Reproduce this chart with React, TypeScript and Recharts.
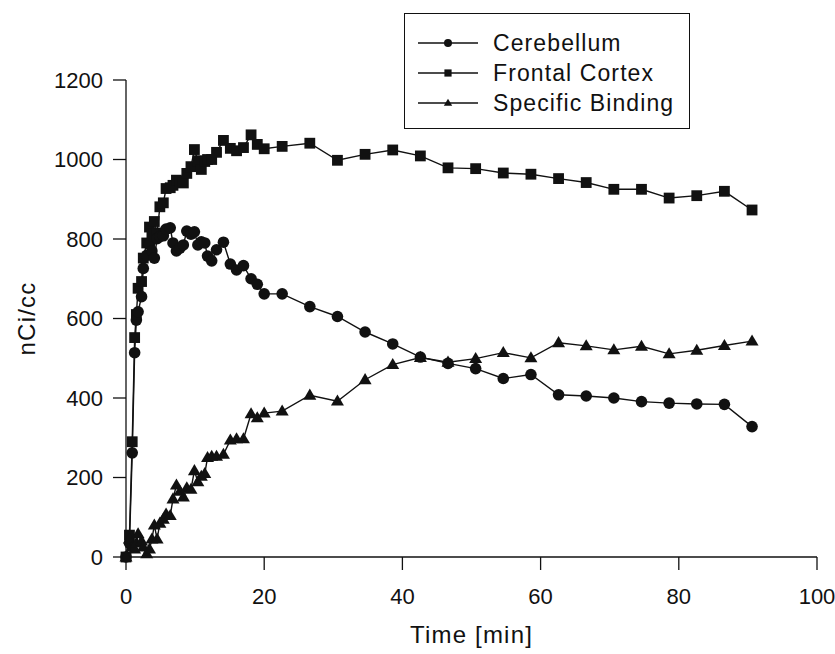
import React from 'react';
import { LineChart, Line, XAxis, YAxis, Legend } from 'recharts';

// sampling times [min], shared by all three curves
const times = [
  0, 0.5, 0.9, 1.25, 1.5, 1.75, 2.25, 2.5, 3.0, 3.4, 3.75, 4.1, 4.5, 4.9, 5.4, 5.8,
  6.4, 6.8, 7.3, 7.8, 8.3, 8.8, 9.4, 9.9, 10.4, 10.9, 11.4, 11.8, 12.4, 13.1, 14.1,
  15.1, 16.0, 17.0, 18.1, 19.0, 20.0, 22.6, 26.6, 30.6, 34.6, 38.6, 42.6, 46.6,
  50.6, 54.6, 58.6, 62.6, 66.6, 70.6, 74.6, 78.6, 82.6, 86.6, 90.6,
];

const cerebellum = [
  0, 35, 262, 514, 596, 617, 655, 726, 759, 787, 770, 752, 801, 806, 808, 825,
  828, 790, 770, 777, 785, 820, 812, 818, 785, 793, 790, 757, 745, 773, 792,
  737, 722, 733, 700, 686, 662, 662, 630, 605, 566, 536, 503, 487,
  474, 449, 459, 408, 405, 400, 391, 387, 385, 384, 328,
];

const frontalCortex = [
  0, 55, 290, 552, 610, 676, 693, 752, 790, 830, 812, 844, 815, 881, 891, 927,
  929, 935, 948, 945, 941, 965, 982, 1025, 997, 975, 995, 1000, 1000, 1018, 1048,
  1028, 1022, 1030, 1062, 1038, 1027, 1033, 1041, 998, 1013, 1024, 1009, 979,
  977, 966, 963, 952, 942, 925, 925, 903, 909, 920, 873,
];

const specificBinding = [
  0, 45, 25, 20, 35, 58, 40, 25, 8, 20, 45, 80, 45, 85, 95, 108,
  104, 146, 181, 165, 151, 174, 170, 217, 189, 203, 210, 250, 253, 253, 258,
  294, 297, 297, 360, 350, 362, 367, 407, 392, 446, 484, 502, 490,
  499, 514, 501, 539, 531, 521, 530, 511, 520, 532, 543,
];

const xTicks = [0, 20, 40, 60, 80, 100];
const yTicks = [0, 200, 400, 600, 800, 1000, 1200];

const data = times.map((t, i) => ({
  t,
  cerebellum: cerebellum[i],
  frontal: frontalCortex[i],
  binding: specificBinding[i],
}));

const FONT = '"Liberation Sans", Arial, Helvetica, sans-serif';
const INK = '#111';

const CircleDot = (props: any) => {
  const { cx, cy, size = 5.8 } = props;
  if (cx == null || cy == null) return null;
  return <circle cx={cx} cy={cy} r={size} fill={INK} />;
};

const SquareDot = (props: any) => {
  const { cx, cy, size = 5.4 } = props;
  if (cx == null || cy == null) return null;
  return <rect x={cx - size} y={cy - size} width={size * 2} height={size * 2} fill={INK} />;
};

const TriangleDot = (props: any) => {
  const { cx, cy, size = 6.5 } = props;
  if (cx == null || cy == null) return null;
  const h = size * 1.7;
  const pts = `${cx},${cy - h * 0.6} ${cx - size},${cy + h * 0.4} ${cx + size},${cy + h * 0.4}`;
  return <polygon points={pts} fill={INK} />;
};

const legendItems = [
  { name: 'Cerebellum', Dot: CircleDot, size: 4 },
  { name: 'Frontal Cortex', Dot: SquareDot, size: 3.6 },
  { name: 'Specific Binding', Dot: TriangleDot, size: 4.2 },
];

const BoxLegend = () => (
  <div
    style={{
      border: `1.5px solid ${INK}`,
      width: 284,
      padding: '14px 0 10px 0',
      background: '#fff',
      fontFamily: FONT,
      fontSize: 23,
      letterSpacing: 1.1,
      color: INK,
    }}
  >
    {legendItems.map(({ name, Dot, size }) => (
      <div key={name} style={{ display: 'flex', alignItems: 'center', height: 30 }}>
        <svg width={88} height={20} style={{ flex: 'none' }}>
          <line x1={13} y1={10} x2={73} y2={10} stroke={INK} strokeWidth={1.3} />
          <Dot cx={43} cy={10} size={size} />
        </svg>
        <span style={{ whiteSpace: 'nowrap' }}>{name}</span>
      </div>
    ))}
  </div>
);

const tickStyle = { fill: INK, fontSize: 22, fontFamily: FONT };
const labelStyle = { fill: INK, fontSize: 24, fontFamily: FONT, letterSpacing: 1.2 };

const App = () => (
  <div style={{ position: 'absolute', left: 0, top: 0, width: 835, height: 654, background: '#fff' }}>
    <LineChart width={835} height={654} data={data} margin={{ top: 80, right: 18, bottom: 7, left: 0 }}>
      <XAxis
        dataKey="t"
        type="number"
        domain={[0, 100]}
        ticks={xTicks}
        interval={0}
        tickSize={13}
        tickMargin={18}
        height={90}
        stroke={INK}
        strokeWidth={1.3}
        tick={tickStyle}
        label={{
          value: 'Time [min]',
          position: 'insideBottom',
          offset: 4,
          style: labelStyle,
        }}
      />
      <YAxis
        type="number"
        domain={[0, 1200]}
        ticks={yTicks}
        interval={0}
        tickSize={13}
        tickMargin={10}
        width={126}
        stroke={INK}
        strokeWidth={1.3}
        tick={tickStyle}
        label={{
          value: 'nCi/cc',
          angle: -90,
          position: 'insideLeft',
          offset: 26,
          style: { ...labelStyle, textAnchor: 'middle' },
        }}
      />
      <Legend
        layout="vertical"
        align="center"
        verticalAlign="middle"
        content={<BoxLegend />}
        wrapperStyle={{ top: 13, left: 404, width: 288 }}
      />
      <Line
        dataKey="frontal"
        name="Frontal Cortex"
        stroke={INK}
        strokeWidth={1.4}
        dot={<SquareDot />}
        isAnimationActive={false}
      />
      <Line
        dataKey="cerebellum"
        name="Cerebellum"
        stroke={INK}
        strokeWidth={1.4}
        dot={<CircleDot />}
        isAnimationActive={false}
      />
      <Line
        dataKey="binding"
        name="Specific Binding"
        stroke={INK}
        strokeWidth={1.4}
        dot={<TriangleDot />}
        isAnimationActive={false}
      />
    </LineChart>
  </div>
);

export default App;
